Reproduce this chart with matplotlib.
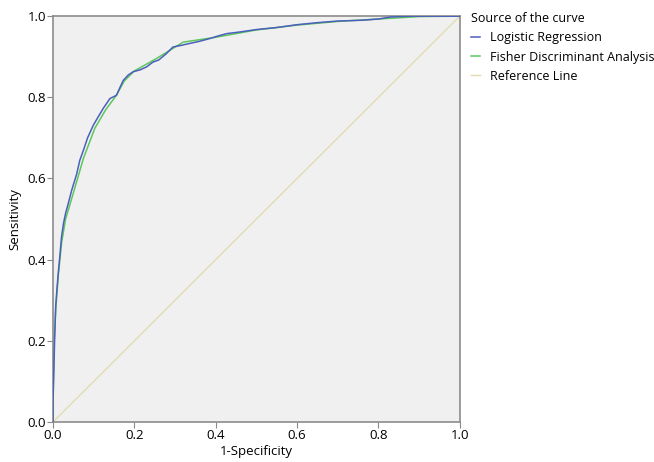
import matplotlib
matplotlib.use("Agg")
import matplotlib.pyplot as plt

plt.rcParams['font.family'] = ['Open Sans', 'DejaVu Sans']

# ROC curve points (1-specificity, sensitivity)
lr_fpr = [0.0, 0.0, 0.002, 0.004, 0.0066, 0.01, 0.013, 0.017, 0.021, 0.026, 0.031, 0.038,
          0.046, 0.058, 0.066, 0.075, 0.085, 0.099, 0.11, 0.125, 0.14, 0.156, 0.165, 0.173,
          0.185, 0.197, 0.215, 0.23, 0.246, 0.26, 0.279, 0.295, 0.315, 0.337, 0.36, 0.386,
          0.405, 0.427, 0.459, 0.5, 0.55, 0.6, 0.65, 0.7, 0.76, 0.8, 0.83, 0.88, 1.0]
lr_tpr = [0.0, 0.05, 0.12, 0.2, 0.284, 0.33, 0.367, 0.41, 0.456, 0.49, 0.514, 0.54,
          0.571, 0.61, 0.645, 0.67, 0.70, 0.731, 0.75, 0.775, 0.797, 0.805, 0.825, 0.842,
          0.855, 0.863, 0.868, 0.875, 0.887, 0.892, 0.908, 0.924, 0.928, 0.933, 0.938, 0.945,
          0.951, 0.957, 0.961, 0.967, 0.972, 0.979, 0.984, 0.988, 0.99, 0.993, 0.998, 1.0, 1.0]

fda_fpr = [0.0, 0.001, 0.003, 0.007, 0.013, 0.021, 0.031, 0.05, 0.075, 0.103, 0.13, 0.156,
           0.175, 0.2, 0.255, 0.32, 0.4, 0.5, 0.6, 0.7, 0.8, 0.9, 1.0]
fda_tpr = [0.0, 0.1, 0.2, 0.28, 0.36, 0.44, 0.5, 0.564, 0.65, 0.724, 0.77, 0.805,
           0.84, 0.865, 0.896, 0.936, 0.948, 0.966, 0.978, 0.987, 0.993, 0.999, 1.0]

ref_line = [0.0, 1.0]
ticks = [0.0, 0.2, 0.4, 0.6, 0.8, 1.0]

fig = plt.figure(figsize=(6.54, 4.62), dpi=100)
ax = fig.add_axes([0.081, 0.0866, 0.622, 0.8784])
ax.set_facecolor('#f0f0f0')

ax.plot(ref_line, ref_line, color='#e2dcb2', lw=1, label='Reference Line', zorder=1)
ax.plot(fda_fpr, fda_tpr, color='#5cc85c', lw=1.1, label='Fisher Discriminant Analysis', zorder=2)
ax.plot(lr_fpr, lr_tpr, color='#4b5fbd', lw=1.1, label='Logistic Regression', zorder=3)

ax.set_xlim(0, 1)
ax.set_ylim(0, 1)
ax.set_xticks(ticks)
ax.set_yticks(ticks)
ax.set_xticklabels([f"{t:.1f}" for t in ticks])
ax.set_yticklabels([f"{t:.1f}" for t in ticks])
ax.tick_params(labelsize=9.5, length=4, color='#888888', pad=1)
for s in ax.spines.values():
    s.set_color('#8c8c8c')
    s.set_linewidth(1.2)

ax.set_xlabel('1-Specificity', fontsize=9.5, labelpad=2)
ax.set_ylabel('Sensitivity', fontsize=9.5, labelpad=4)

handles, labels = ax.get_legend_handles_labels()
order = [2, 1, 0]
leg = fig.legend([handles[i] for i in order], [labels[i] for i in order],
                 title='Source of the curve', loc='upper left', bbox_to_anchor=(0.72, 0.974),
                 frameon=False, fontsize=9, title_fontsize=9, handlelength=0.7,
                 handletextpad=0.8, labelspacing=0.5, borderpad=0, borderaxespad=0)
leg._legend_box.align = 'left'

fig.savefig('out.png', dpi=100)
